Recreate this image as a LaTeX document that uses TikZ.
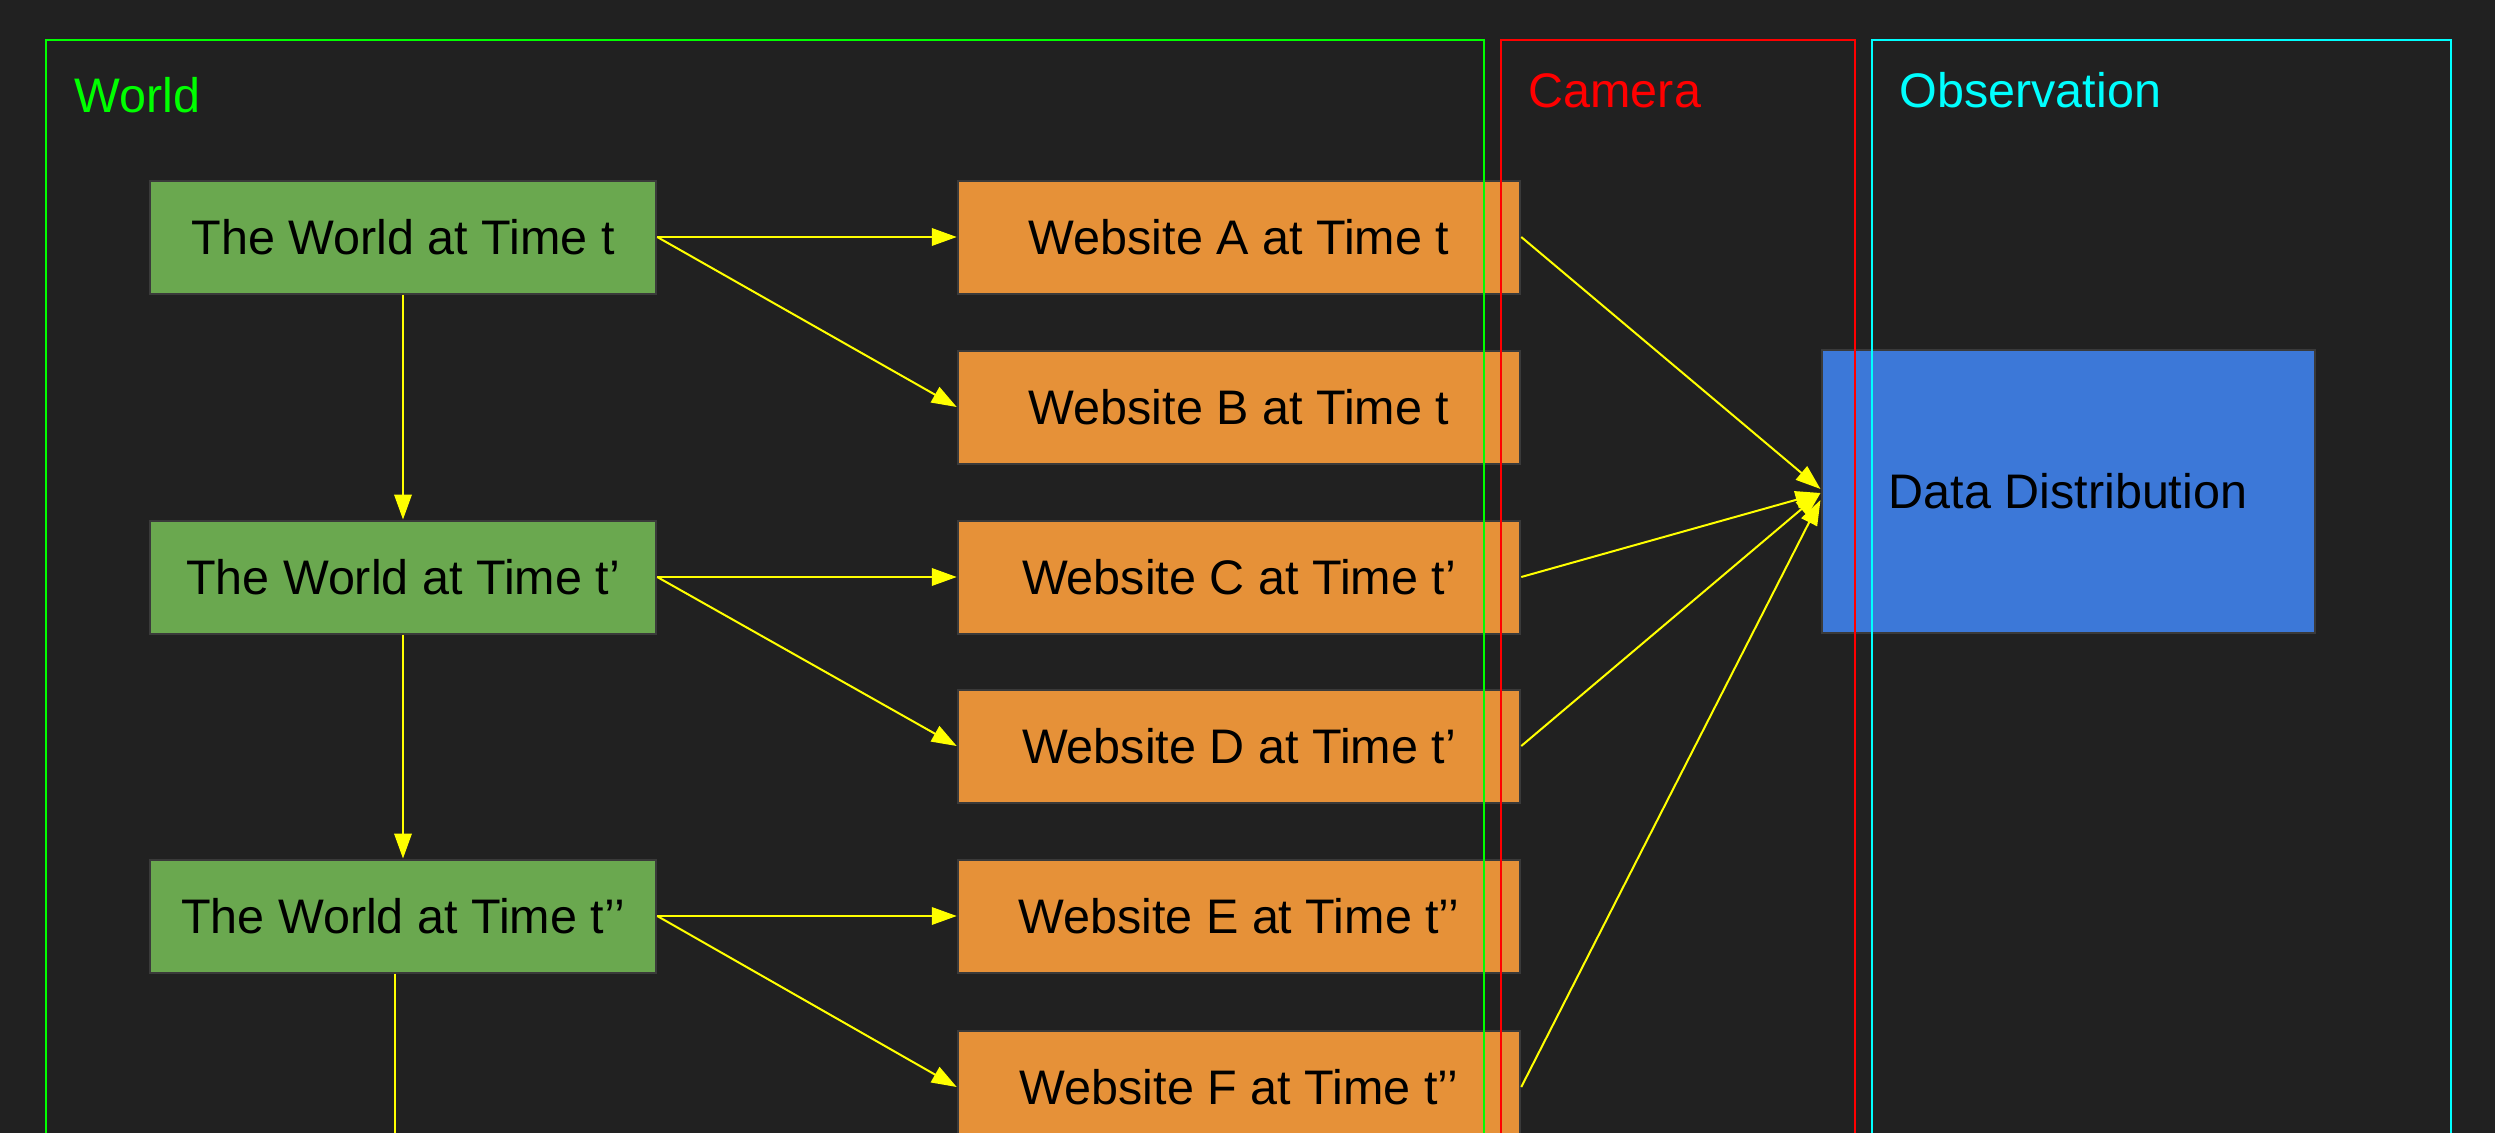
\documentclass[tikz,border=0pt]{standalone}
\usepackage{fontspec}
\setmainfont{Liberation Sans}
\usetikzlibrary{arrows.meta,calc}
\definecolor{bg}{HTML}{212121}
\definecolor{gbox}{HTML}{6AA84F}
\definecolor{obox}{HTML}{E69138}
\definecolor{bbox}{HTML}{3C78D8}
\definecolor{edgec}{HTML}{3A3A3A}
\definecolor{arrowc}{HTML}{FFFF00}
\definecolor{fgreen}{HTML}{00FF00}
\definecolor{fred}{HTML}{FF0000}
\definecolor{fcyan}{HTML}{00FFFF}
\begin{document}
\begin{tikzpicture}[x=0.4pt,y=-0.4pt,
  box/.style={draw=edgec, line width=0.8pt, inner sep=0pt, text=black, font=\fontsize{19.4}{23}\selectfont, minimum height=45.2pt},
  worldbox/.style={box, fill=gbox, minimum width=202.6pt},
  sitebox/.style={box, fill=obox, minimum width=225pt},
  distbox/.style={box, fill=bbox, minimum width=197.2pt, minimum height=113.2pt},
  framebox/.style={line width=0.8pt},
  framelabel/.style={anchor=base west, inner sep=0pt, font=\fontsize{19.4}{23}\selectfont},
  conn/.style={draw=arrowc, line width=0.8pt, -{Triangle[length=10pt,width=7pt]}},
  plainconn/.style={draw=arrowc, line width=0.8pt},
]
\fill[bg] (0,0) rectangle (2495,1133);
\useasboundingbox (0,0) rectangle (2495,1133);
\clip (0,0) rectangle (2495,1133);

% world states
\node[worldbox] (w1) at (403,237) {The World at Time t};
\node[worldbox] (w2) at (403,577) {The World at Time t’};
\node[worldbox] (w3) at (403,916) {The World at Time t’’};

% websites
\node[sitebox] (sa) at (1239,237) {Website A at Time t};
\node[sitebox] (sb) at (1239,407) {Website B at Time t};
\node[sitebox] (sc) at (1239,577) {Website C at Time t’};
\node[sitebox] (sd) at (1239,746) {Website D at Time t’};
\node[sitebox] (se) at (1239,916) {Website E at Time t’’};
\node[sitebox] (sf) at (1239,1087) {Website F at Time t’’};

% data distribution
\node[distbox] (dd) at (2068,491) {Data Distribution};

% frames
\draw[framebox, fgreen] (46,1200) -- (46,40) -- (1484,40) -- (1484,1200);
\draw[framebox, fred] (1501,1200) -- (1501,40) -- (1855,40) -- (1855,1200);
\draw[framebox, fcyan] (1872,1200) -- (1872,40) -- (2451,40) -- (2451,1200);
\node[framelabel, text=fgreen] (lworld) at (74,112) {World};
\node[framelabel, text=fred] (lcam) at (1528,107) {Camera};
\node[framelabel, text=fcyan] (lobs) at (1899,107) {Observation};

% connectors
\draw[conn] (w1.east) -- (sa.west);
\draw[conn] (w1.east) -- (sb.west);
\draw[conn] (w1.south) -- (w2.north);
\draw[conn] (w2.east) -- (sc.west);
\draw[conn] (w2.east) -- (sd.west);
\draw[conn] (w2.south) -- (w3.north);
\draw[conn] (w3.east) -- (se.west);
\draw[conn] (w3.east) -- (sf.west);
\coordinate (wbelow) at (395,1200);
\draw[plainconn] ($(w3.south)+(-8,0)$) -- (wbelow);

\draw[conn] (sa.east) -- ($(dd.west)+(0,-2)$);
\draw[conn] (sc.east) -- ($(dd.west)+(0,2)$);
\draw[conn] (sd.east) -- ($(dd.west)+(0,2)$);
\draw[conn] (sf.east) -- ($(dd.west)+(0,9)$);
\end{tikzpicture}
\end{document}
